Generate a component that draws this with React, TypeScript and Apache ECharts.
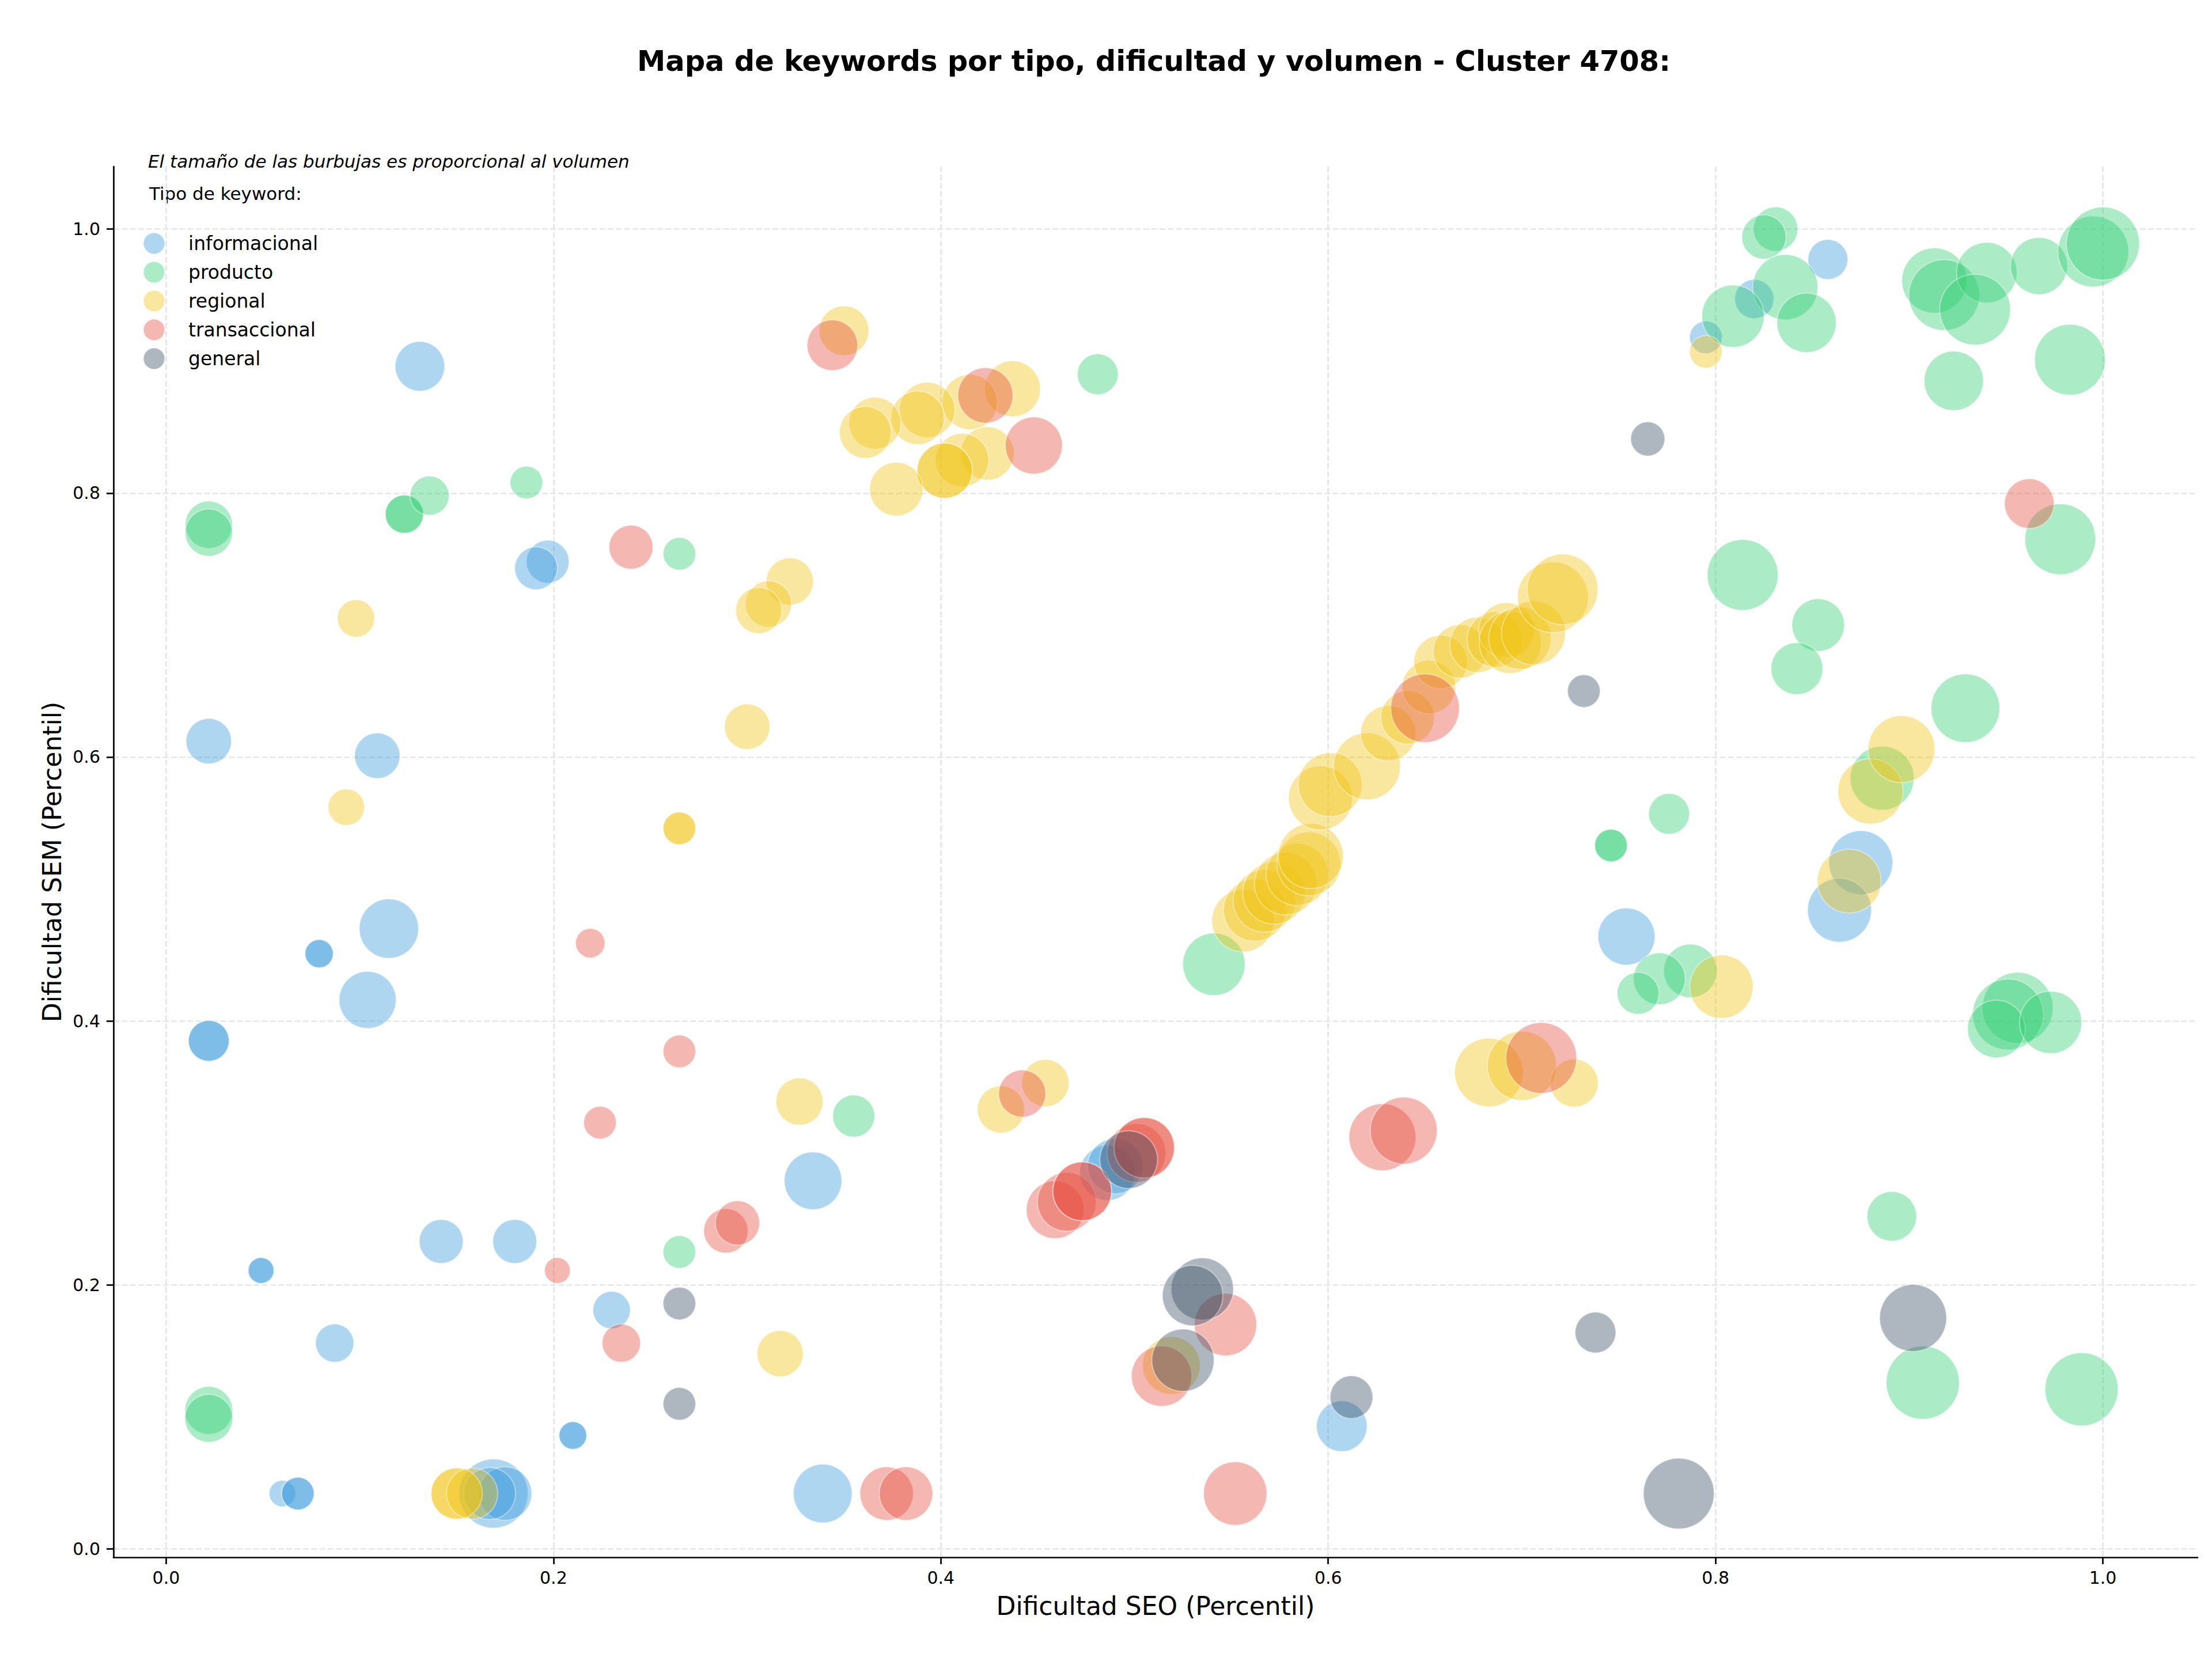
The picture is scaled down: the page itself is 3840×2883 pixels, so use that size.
import React, { useEffect, useRef } from 'react';
import * as echarts from 'echarts';

// [Dificultad SEO, Dificultad SEM, volumen relativo]
type Punto = [number, number, number];

const tiposKeyword = ['informacional', 'producto', 'regional', 'transaccional', 'general'];
const coloresTipo = ['#3498db', '#2ecc71', '#f1c40f', '#e74c3c', '#34495e'];
const valoresEje = [0, 0.2, 0.4, 0.6, 0.8, 1.0];

const informacional: Punto[] = [
  [0.131, 0.896, 74], [0.858, 0.977, 48], [0.820, 0.947, 46], [0.795, 0.918, 32],
  [0.022, 0.612, 62], [0.109, 0.601, 62], [0.197, 0.748, 55], [0.191, 0.743, 55],
  [0.115, 0.470, 106], [0.079, 0.451, 24], [0.079, 0.451, 24], [0.104, 0.416, 98],
  [0.022, 0.385, 50], [0.022, 0.385, 50], [0.334, 0.279, 100], [0.142, 0.233, 58],
  [0.180, 0.233, 58], [0.049, 0.211, 20], [0.049, 0.211, 20], [0.230, 0.181, 42],
  [0.087, 0.156, 44], [0.210, 0.086, 23], [0.210, 0.086, 23], [0.060, 0.042, 21],
  [0.068, 0.042, 32], [0.068, 0.042, 32], [0.169, 0.042, 144], [0.175, 0.042, 86],
  [0.167, 0.042, 81], [0.339, 0.042, 104], [0.754, 0.464, 98], [0.875, 0.520, 123],
  [0.864, 0.484, 123], [0.607, 0.093, 77], [0.486, 0.285, 92], [0.490, 0.290, 92],
];

const producto: Punto[] = [
  [0.022, 0.776, 67], [0.022, 0.770, 67], [0.123, 0.784, 44], [0.123, 0.784, 44],
  [0.136, 0.798, 46], [0.186, 0.808, 32], [0.265, 0.754, 32], [0.481, 0.890, 50],
  [0.831, 1.000, 59], [0.825, 0.994, 59], [0.836, 0.956, 128], [0.809, 0.934, 117],
  [0.847, 0.929, 106], [0.913, 0.961, 128], [0.918, 0.950, 151], [0.940, 0.967, 110],
  [0.934, 0.939, 151], [0.967, 0.972, 98], [0.995, 0.983, 151], [1.000, 0.989, 161],
  [0.923, 0.885, 106], [0.983, 0.901, 151], [0.978, 0.765, 151], [0.814, 0.738, 151],
  [0.853, 0.700, 83], [0.842, 0.667, 81], [0.929, 0.637, 142], [0.886, 0.584, 123],
  [0.776, 0.557, 50], [0.746, 0.533, 32], [0.746, 0.533, 32], [0.787, 0.438, 86],
  [0.771, 0.432, 81], [0.760, 0.421, 53], [0.541, 0.443, 117], [0.956, 0.410, 151],
  [0.951, 0.405, 151], [0.945, 0.394, 100], [0.973, 0.399, 117], [0.891, 0.252, 74],
  [0.907, 0.126, 161], [0.989, 0.121, 161], [0.355, 0.328, 53], [0.265, 0.225, 32],
  [0.022, 0.105, 69], [0.022, 0.099, 69],
];

const regional: Punto[] = [
  [0.350, 0.923, 74], [0.437, 0.879, 94], [0.415, 0.869, 92], [0.393, 0.863, 92],
  [0.388, 0.857, 86], [0.366, 0.853, 81], [0.361, 0.846, 81], [0.424, 0.830, 86],
  [0.411, 0.825, 86], [0.402, 0.817, 92], [0.402, 0.817, 92], [0.377, 0.803, 86],
  [0.795, 0.907, 32], [0.098, 0.705, 42], [0.322, 0.733, 67], [0.311, 0.716, 64],
  [0.306, 0.711, 64], [0.300, 0.623, 62], [0.093, 0.562, 40], [0.265, 0.546, 32],
  [0.265, 0.546, 32], [0.327, 0.339, 67], [0.454, 0.353, 67], [0.431, 0.333, 67],
  [0.317, 0.148, 64], [0.150, 0.042, 79], [0.150, 0.042, 79], [0.158, 0.042, 79],
  [0.683, 0.361, 142], [0.700, 0.366, 144], [0.727, 0.353, 69], [0.803, 0.426, 121],
  [0.869, 0.506, 123], [0.880, 0.574, 128], [0.896, 0.606, 135], [0.519, 0.139, 100],
  [0.556, 0.476, 117], [0.562, 0.484, 117], [0.567, 0.491, 117], [0.572, 0.497, 117],
  [0.578, 0.504, 117], [0.584, 0.511, 117], [0.590, 0.519, 123], [0.591, 0.525, 128],
  [0.596, 0.569, 123], [0.601, 0.579, 123], [0.620, 0.593, 135], [0.631, 0.618, 92],
  [0.641, 0.630, 86], [0.652, 0.653, 86], [0.658, 0.672, 86], [0.668, 0.680, 86],
  [0.677, 0.685, 92], [0.686, 0.689, 92], [0.692, 0.696, 92], [0.694, 0.687, 117],
  [0.699, 0.690, 117], [0.706, 0.694, 123], [0.716, 0.721, 151], [0.721, 0.727, 151],
];

const transaccional: Punto[] = [
  [0.344, 0.912, 77], [0.423, 0.874, 92], [0.448, 0.836, 98], [0.240, 0.759, 58],
  [0.219, 0.459, 26], [0.265, 0.377, 32], [0.224, 0.323, 32], [0.202, 0.211, 20],
  [0.235, 0.156, 44], [0.289, 0.241, 59], [0.295, 0.247, 59], [0.442, 0.345, 67],
  [0.962, 0.792, 74], [0.650, 0.637, 142], [0.710, 0.372, 151], [0.628, 0.312, 135],
  [0.639, 0.317, 135], [0.459, 0.257, 100], [0.465, 0.263, 104], [0.473, 0.271, 104],
  [0.473, 0.271, 104], [0.501, 0.300, 104], [0.505, 0.304, 110], [0.505, 0.304, 110],
  [0.547, 0.170, 117], [0.514, 0.131, 110], [0.552, 0.042, 121], [0.372, 0.042, 86],
  [0.382, 0.042, 86],
];

const general: Punto[] = [
  [0.765, 0.841, 35], [0.732, 0.650, 32], [0.265, 0.186, 32], [0.265, 0.110, 32],
  [0.612, 0.115, 55], [0.738, 0.164, 50], [0.902, 0.175, 135], [0.535, 0.197, 117],
  [0.530, 0.192, 110], [0.525, 0.143, 117], [0.781, 0.042, 151], [0.497, 0.295, 100],
];

const datosPorTipo = [informacional, producto, regional, transaccional, general];

const FONT = 'DejaVu Sans';

function rgba(hex: string, a: number) {
  const n = parseInt(hex.slice(1), 16);
  return `rgba(${(n >> 16) & 255},${(n >> 8) & 255},${n & 255},${a})`;
}

export default function App() {
  const ref = useRef<HTMLDivElement>(null);

  useEffect(() => {
    if (!ref.current) return;
    document.body.style.margin = '0';
    const chart = echarts.init(ref.current, undefined, { renderer: 'svg' });

    const axisCommon = {
      type: 'value' as const,
      axisLine: { show: true, onZero: false, lineStyle: { color: '#000', width: 2.7 } },
      axisTick: { show: true, length: 12, lineStyle: { color: '#000', width: 2.7 }, customValues: valoresEje },
      splitLine: { show: true, lineStyle: { color: '#e6e6e6', width: 2.7, type: [10, 4.3] } },
      nameLocation: 'middle' as const,
      nameTextStyle: { fontFamily: FONT, fontSize: 44, color: '#000' },
    };

    chart.setOption({
      animation: false,
      backgroundColor: '#ffffff',
      title: {
        text: 'Mapa de keywords por tipo, dificultad y volumen - Cluster 4708:',
        left: 1998,
        top: 76,
        textAlign: 'center',
        textStyle: { fontFamily: FONT, fontSize: 49.5, fontWeight: 'bold', color: '#000' },
      },
      grid: { left: 197, right: 25, top: 289, bottom: 180, containLabel: false },
      xAxis: {
        ...axisCommon,
        min: -0.0272,
        max: 1.0489,
        name: 'Dificultad SEO (Percentil)',
        nameGap: 62,
        axisLabel: {
          customValues: valoresEje,
          margin: 20,
          fontFamily: FONT,
          fontSize: 30,
          color: '#000',
          formatter: (v: number) => v.toFixed(1),
        },
      },
      yAxis: {
        ...axisCommon,
        min: -0.0063,
        max: 1.0474,
        name: 'Dificultad SEM (Percentil)',
        nameGap: 85,
        axisLabel: {
          customValues: valoresEje,
          margin: 23,
          fontFamily: FONT,
          fontSize: 30,
          color: '#000',
          formatter: (v: number) => v.toFixed(1),
        },
      },
      legend: {
        data: tiposKeyword,
        orient: 'vertical',
        left: 243,
        top: 398,
        itemWidth: 37,
        itemHeight: 37,
        itemGap: 11,
        icon: 'circle',
        selectedMode: false,
        textStyle: { fontFamily: FONT, fontSize: 33, color: '#000', padding: [0, 0, 0, 36], lineHeight: 37 },
      },
      graphic: [
        {
          type: 'text',
          x: 257,
          y: 280,
          style: {
            text: 'El tamaño de las burbujas es proporcional al volumen',
            fontFamily: FONT,
            fontSize: 31,
            fontStyle: 'italic',
            fill: '#000',
            textAlign: 'left',
            textVerticalAlign: 'middle',
          },
        },
        {
          type: 'text',
          x: 259,
          y: 336,
          style: {
            text: 'Tipo de keyword:',
            fontFamily: FONT,
            fontSize: 31,
            fill: '#000',
            textAlign: 'left',
            textVerticalAlign: 'middle',
          },
        },
      ],
      series: tiposKeyword.map((name, i) => ({
        name,
        type: 'scatter',
        data: datosPorTipo[i],
        symbol: 'circle',
        symbolSize: (v: number[]) => 10 * Math.sqrt(v[2]),
        itemStyle: {
          color: rgba(coloresTipo[i], 0.5),
          borderColor: 'rgba(255,255,255,0.5)',
          borderWidth: 2,
        },
        emphasis: { disabled: true },
      })),
    });

    return () => chart.dispose();
  }, []);

  return (
    <div
      ref={ref}
      style={{ position: 'absolute', left: 0, top: 0, width: 3840, height: 2883 }}
    />
  );
}
